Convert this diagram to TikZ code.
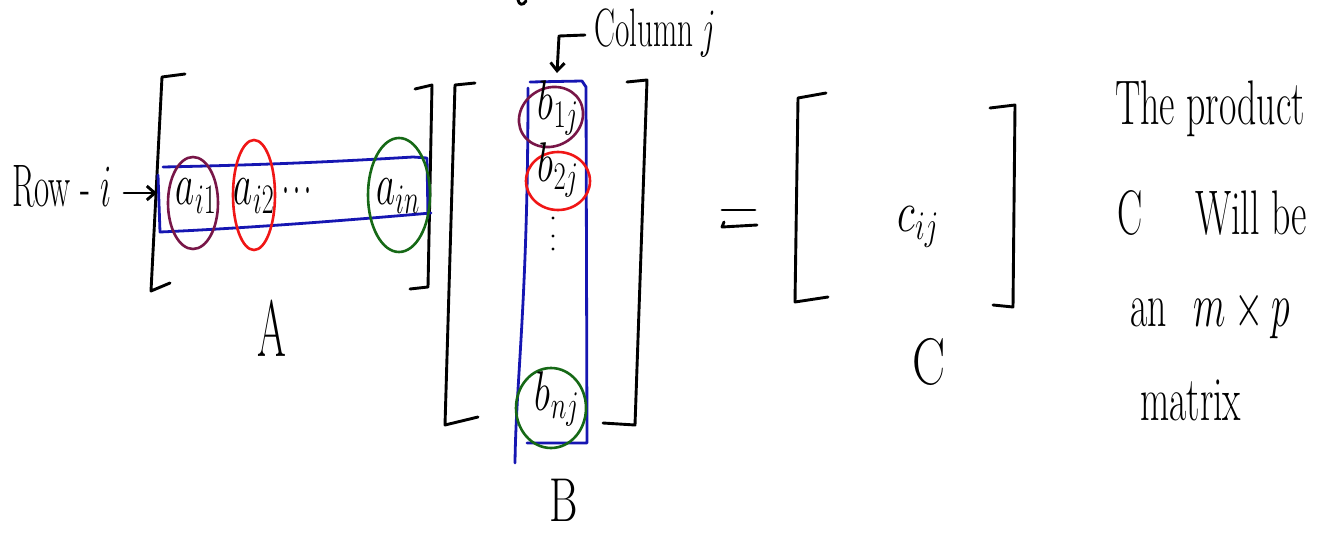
\RequirePackage{fix-cm}
\documentclass[tikz,border=0pt]{standalone}
\usepackage{graphicx}
\usetikzlibrary{shapes.geometric,arrows.meta}
\definecolor{penblue}{RGB}{22,22,178}
\definecolor{penred}{RGB}{240,22,22}
\definecolor{penplum}{RGB}{120,22,72}
\definecolor{pengreen}{RGB}{22,105,22}
\newcommand{\hwtxt}[3]{\scalebox{#1}[1]{\fontsize{#2}{#2}\selectfont #3}}
\begin{document}
\begin{tikzpicture}[x=1pt,y=-1pt,
  ink/.style={line width=2.9pt, line cap=round, line join=round},
  brk/.style={ink, black},
  blu/.style={line width=2.8pt, draw=penblue, line cap=round, line join=round},
  ring/.style={ellipse, draw, line width=2.6pt, inner sep=0pt},
  arr/.style={ink, -{Straight Barb[length=8pt,width=14pt]}},
  lbl/.style={inner sep=0pt}]
\useasboundingbox (0,0) rectangle (1338,544);

% stray stroke at the top edge
\draw[ink] (518,0) .. controls (519,5) and (523,6) .. (526,1);

% ---------- Row i label and arrow
\node[lbl, anchor=base west] (row) at (12,206) {\hwtxt{0.55}{60}{Row - $i$}};
\coordinate (rowtip) at (157,193);
\draw[arr, shorten <=12pt] (row.east |- rowtip) -- (rowtip);

% ---------- Matrix A
\draw[brk] (185,74) -- (162,77) -- (151,291) -- (170,283);
\draw[brk] (415,89) -- (432,85) -- (428,287) -- (410,289);
\draw[blu] (163,167) .. controls (260,165) and (330,162) .. (413,157) -- (427,158) -- (428,218);
\draw[blu] (431,213) .. controls (350,220) and (250,228) .. (160,232) -- (158,175);

\node[ring, draw=penplum, minimum width=50pt, minimum height=92pt] (ri1) at (193,203) {};
\node[ring, draw=penred, minimum width=42pt, minimum height=110pt] (ri2) at (254,195) {};
\node[ring, draw=pengreen, minimum width=62pt, minimum height=114pt] (rin) at (399,195) {};

\node[lbl, anchor=base] (ai1) at (196,204) {\hwtxt{0.62}{60}{$a_{i1}$}};
\node[lbl, anchor=base] (ai2) at (254,204) {\hwtxt{0.62}{60}{$a_{i2}$}};
\node[lbl, anchor=base] (adots) at (297,204) {\hwtxt{0.45}{56}{$\cdots$}};
\node[lbl, anchor=base] (ain) at (398,204) {\hwtxt{0.62}{60}{$a_{in}$}};
\node[lbl] (mA) at (272,328) {\hwtxt{0.52}{80}{A}};

% ---------- Matrix B
\draw[brk] (475,83) -- (455,85) -- (445,425) -- (478,417);
\draw[brk] (627,82) -- (647,80) -- (635,425) -- (603,423);
\draw[blu] (528,88) .. controls (528,300) and (516,380) .. (515,463);
\draw[blu] (530,82) -- (582,81) -- (586,87) -- (587,443) -- (527,443);

\node[ring, draw=penplum, minimum width=66pt, minimum height=58pt, rotate=30] (r1j) at (551,117) {};
\node[ring, draw=penred, minimum width=64pt, minimum height=58pt] (r2j) at (558,181) {};
\node[ring, draw=pengreen, minimum width=70pt, minimum height=80pt] (rnj) at (551,408) {};

\node[lbl, anchor=base] (b1j) at (558,119) {\hwtxt{0.68}{56}{$b_{1j}$}};
\node[lbl, anchor=base] (b2j) at (558,181) {\hwtxt{0.68}{56}{$b_{2j}$}};
\foreach \yy/\nm in {218/d1,236/d2,249/d3}
  \fill (553,\yy) circle (1.7pt) coordinate (\nm);
\node[lbl, anchor=base] (bnj) at (557,410) {\hwtxt{0.68}{56}{$b_{nj}$}};
\node[lbl] (mB) at (564,500) {\hwtxt{0.7}{62}{B}};

% Column j label and arrow
\node[lbl, anchor=base west] (col) at (594,46) {\hwtxt{0.58}{54}{Column\hspace{0.25em}$j$}};
\coordinate (colstart) at (585,35);
\coordinate (colbend) at (559,36);
\coordinate (coltip) at (557,73);
\draw[arr] (colstart) -- (colbend) -- (coltip);

% ---------- equals
\draw[ink] (722,210) -- (755,210);
\draw[ink] (724,222) -- (722,227) -- (757,225);

% ---------- Matrix C
\draw[brk] (826,93) -- (798,98) -- (795,302) -- (828,297);
\draw[brk] (990,108) -- (1015,105) -- (1013,307) -- (993,305);
\node[lbl, anchor=base] (cij) at (918,231) {\hwtxt{0.72}{58}{$c_{ij}$}};
\node[lbl] (mC) at (929,362) {\hwtxt{0.75}{66}{C}};

% ---------- right-hand note
\node[lbl, anchor=base west] (t1) at (1115,124) {\hwtxt{0.6}{63}{The product}};
\node[lbl, anchor=base west] (t2) at (1117,234) {\hwtxt{0.6}{63}{C\hspace{1.4em}Will be}};
\node[lbl, anchor=base west] (t3) at (1130,326) {\hwtxt{0.6}{63}{an\hspace{0.7em}$m\times p$}};
\node[lbl, anchor=base west] (t4) at (1140,420) {\hwtxt{0.6}{63}{matrix}};
\end{tikzpicture}
\end{document}
